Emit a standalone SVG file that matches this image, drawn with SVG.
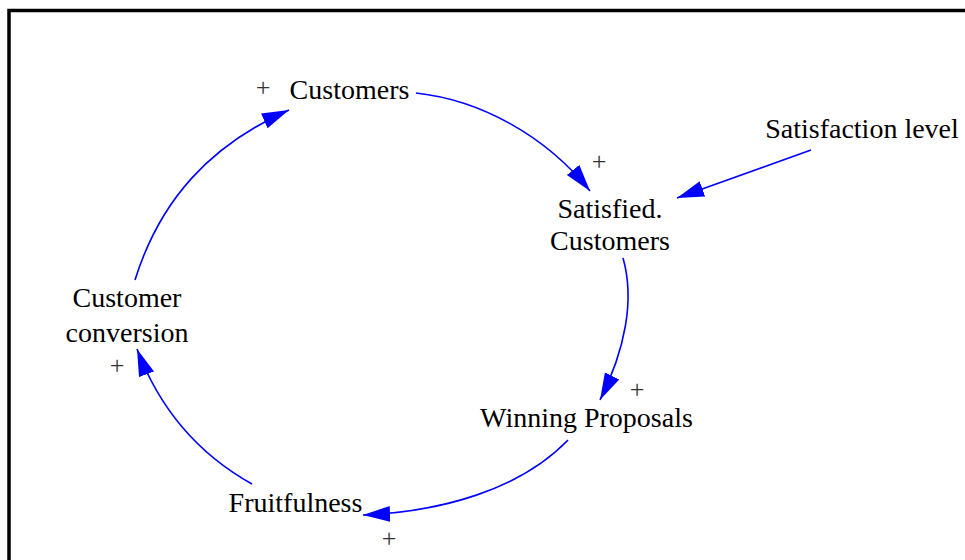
<svg xmlns="http://www.w3.org/2000/svg" width="965" height="560" viewBox="0 0 965 560">
<defs>
<marker id="ah" markerUnits="userSpaceOnUse" markerWidth="30" markerHeight="18" refX="27" refY="9" orient="auto" viewBox="0 0 30 18">
<path d="M0,1 L27,9 L0,17 z" fill="#0000ff"/>
</marker>
<style>
.t{font-size:28px;fill:#000;text-anchor:middle}
.pl{fill:#333;font-size:26px}
.c{fill:none;stroke:#0000ff;stroke-width:1.6;marker-end:url(#ah)}
</style>
</defs>
<rect x="0" y="0" width="965" height="560" fill="#fff"/>
<rect x="9" y="10.5" width="1000" height="600" fill="#fff" stroke="#000" stroke-width="3.5"/>
<g id="connectors">
<path class="c" d="M416,93 C480,100 545,135 590,191"/>
<path class="c" d="M811,150 L677,198"/>
<path class="c" d="M623,258 C635,300 625,350 600,400"/>
<path class="c" d="M568,440 C520,490 440,512 363,515"/>
<path class="c" d="M252,484 C200,455 160,410 137,349"/>
<path class="c" d="M135,280 C160,200 210,145 289,110"/>
</g>
<g font-family="Liberation Serif, serif" class="t">
<g id="customers"><text class="t" x="349.5" y="99">Customers</text><text class="t pl" x="263" y="96">+</text></g>
<g id="satisfied"><text class="t" x="610" y="218">Satisfied.</text><text class="t" x="610" y="250">Customers</text><text class="t pl" x="599" y="170">+</text></g>
<g id="satisfaction"><text class="t" x="862" y="138">Satisfaction level</text></g>
<g id="winning"><text class="t" x="586.5" y="427">Winning Proposals</text><text class="t pl" x="637" y="398">+</text></g>
<g id="fruitfulness"><text class="t" x="295.5" y="512">Fruitfulness</text><text class="t pl" x="389" y="547">+</text></g>
<g id="conversion"><text class="t" x="127" y="307">Customer</text><text class="t" x="127" y="342">conversion</text><text class="t pl" x="117" y="374">+</text></g>
</g>
</svg>
